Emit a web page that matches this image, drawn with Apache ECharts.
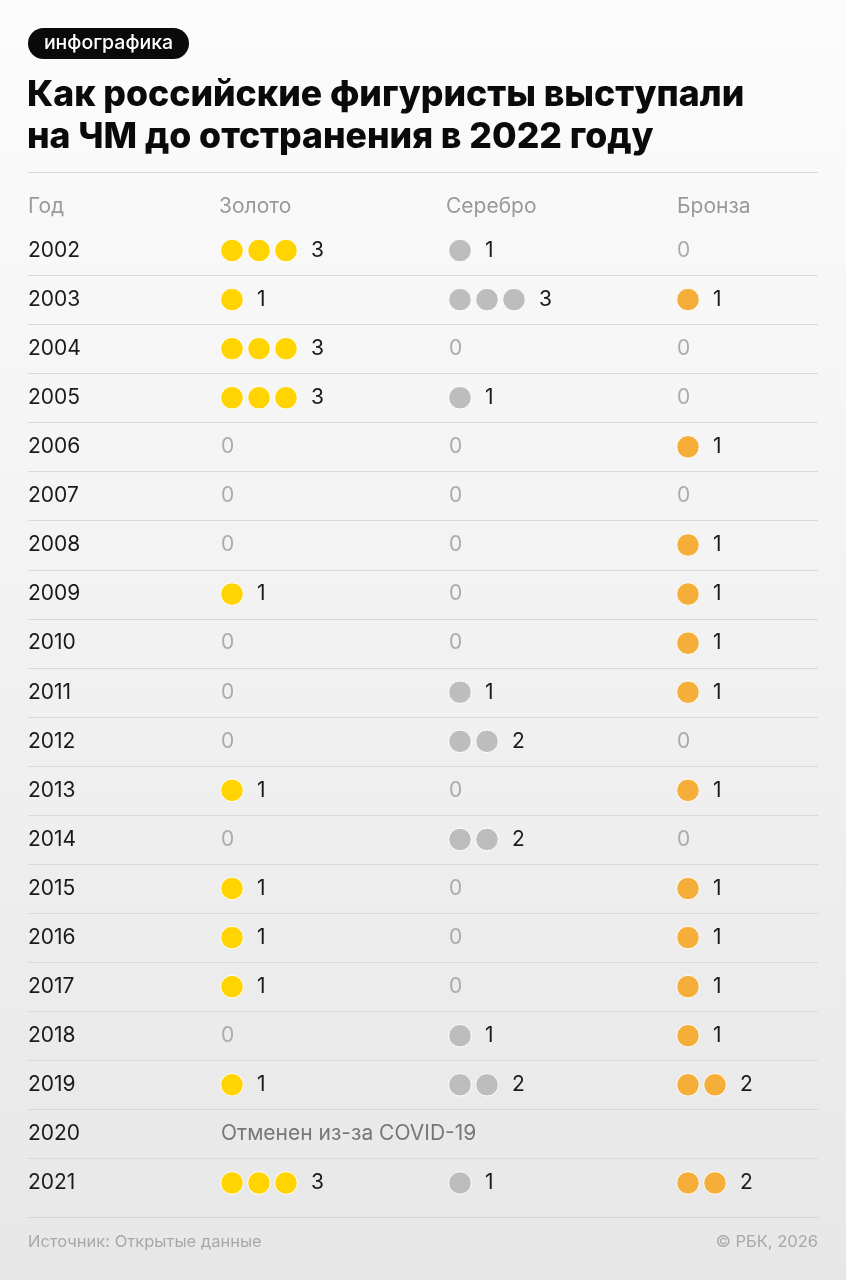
<!DOCTYPE html>
<html><head><meta charset="utf-8">
<script src="https://cdn.jsdelivr.net/npm/echarts@6/dist/echarts.min.js"></script>
<style>html,body{margin:0;padding:0;}#c{width:846px;height:1280px;}</style>
</head><body><div id="c"></div>
<script>
// ---- data ----
const years = ['2002','2003','2004','2005','2006','2007','2008','2009','2010','2011','2012','2013','2014','2015','2016','2017','2018','2019','2020','2021'];
const gold   = [3,1,3,3,0,0,0,1,0,0,0,1,0,1,1,1,0,1,null,3];
const silver = [1,3,0,1,0,0,0,0,0,1,2,0,2,0,0,0,1,2,null,1];
const bronze = [0,1,0,0,1,0,1,1,1,1,0,1,0,1,1,1,1,2,null,2];
const headers = ['Год','Золото','Серебро','Бронза'];
const cancelledNote = 'Отменен из-за COVID-19';
const badgeText = 'инфографика';
const titleLines = ['Как российские фигуристы выступали','на ЧМ до отстранения в 2022 году'];
const sourceText = 'Источник: Открытые данные';
const copyrightText = '© РБК, 2026';

// ---- style ----
const FONT = 'Inter, "Noto Sans", sans-serif';
const BODY = '21px ' + FONT;
const medalColors = ['#FFD400', '#BDBDBD', '#F5AE3A'];
const DOT_STEP = 27, DOT_R = 11.3;

const chart = echarts.init(document.getElementById('c'), null, {renderer:'canvas'});

function txt(x, y, text, fill, font, align) {
  return {type: 'text', x: x, y: y, style: {text: text, fill: fill, font: font,
    textAlign: align || 'left', textVerticalAlign: 'middle', align: align || 'left', verticalAlign: 'middle'}};
}

function medalSeries(values, col) {
  return {
    type: 'custom',
    coordinateSystem: 'cartesian2d',
    data: years.map((y, i) => [col, i, values[i] === null ? '-' : values[i]]),
    encode: {x: 0, y: 1},
    z: 3,
    renderItem: function (params, api) {
      const p = api.coord([api.value(0), api.value(1)]);
      const n = api.value(2);
      const children = [];
      if (n === null || n === undefined || isNaN(n)) {
        if (col === 0) children.push(txt(p[0] - 11, p[1], cancelledNote, '#777', BODY));
        return {type: 'group', children};
      }
      for (let k = 0; k < n; k++) {
        children.push({type: 'circle', shape: {cx: p[0] + k * DOT_STEP, cy: p[1], r: DOT_R},
          style: {fill: medalColors[col], stroke: '#ffffff', lineWidth: 1}});
      }
      if (n > 0) children.push(txt(p[0] + (n - 1) * DOT_STEP + 25, p[1], String(n), '#1a1a1a', BODY));
      else children.push(txt(p[0] - 11, p[1], '0', '#ababab', BODY));
      return {type: 'group', children};
    }
  };
}

const rowSeries = {
  type: 'custom',
  coordinateSystem: 'cartesian2d',
  data: years.map((y, i) => [0, i]),
  encode: {x: 0, y: 1},
  z: 1,
  renderItem: function (params, api) {
    if (params.dataIndex >= years.length - 1) return {type: 'group', children: []};
    const p = api.coord([0, api.value(1)]);
    const h = api.size([0, 1])[1];
    const y = Math.round(p[1] + h / 2) + 0.5;
    return {type: 'line', shape: {x1: 28, y1: y, x2: 818, y2: y}, style: {stroke: '#d9d9d9', lineWidth: 1}};
  }
};

const graphics = [
  {type: 'rect', shape: {x: 28, y: 28, width: 161, height: 31, r: 15.5}, style: {fill: '#0a0a0a'}},
  txt(108.5, 43.5, badgeText, '#fff', '500 19.5px ' + FONT, 'center'),
  txt(27, 95, titleLines[0], '#0a0a0a', '800 35.6px ' + FONT),
  txt(27, 137, titleLines[1], '#0a0a0a', '800 35.6px ' + FONT),
  {type: 'line', shape: {x1: 28, y1: 172.5, x2: 818, y2: 172.5}, style: {stroke: '#d9d9d9', lineWidth: 1}},
  {type: 'line', shape: {x1: 28, y1: 1217.5, x2: 818, y2: 1217.5}, style: {stroke: '#d4d4d4', lineWidth: 1}},
  txt(28, 1242, sourceText, '#a8a8a8', '16.5px ' + FONT),
  txt(818, 1242, copyrightText, '#a8a8a8', '16.5px ' + FONT, 'right')
];
const headerX = [28, 219, 446, 677];
headers.forEach((h, i) => graphics.push(txt(headerX[i], 207, h, '#9a9a9a', BODY)));

chart.setOption({
  animation: false,
  backgroundColor: new echarts.graphic.LinearGradient(0, 0, 0, 1, [
    {offset: 0, color: '#fcfcfc'}, {offset: 1, color: '#e7e7e7'}
  ]),
  grid: {left: 232, right: 158, top: 226, bottom: 72.5, containLabel: false},
  xAxis: {type: 'value', min: 0, max: 2, interval: 1, show: false},
  yAxis: {
    type: 'category', data: years, inverse: true,
    axisLine: {show: false}, axisTick: {show: false}, splitLine: {show: false},
    axisLabel: {align: 'left', margin: 204, color: '#1a1a1a', fontSize: 21, fontFamily: FONT}
  },
  graphic: graphics,
  series: [rowSeries, medalSeries(gold, 0), medalSeries(silver, 1), medalSeries(bronze, 2)]
});
</script>
</body></html>
